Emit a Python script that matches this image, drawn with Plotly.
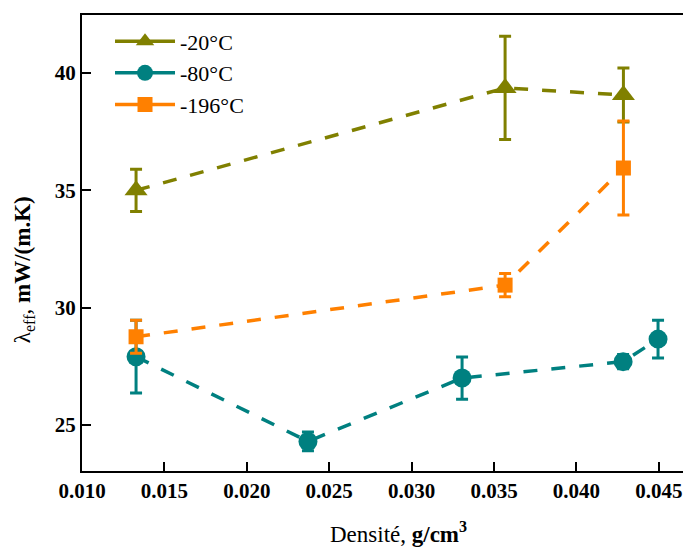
import plotly.graph_objects as go

x20 = [0.01328, 0.03567, 0.04285]
y20 = [35.0, 39.36, 39.06]
e20 = [0.9, 2.2, 1.15]

x80 = [0.01328, 0.02371, 0.03306, 0.04283, 0.04495]
y80 = [27.91, 24.3, 27.0, 27.7, 28.66]
e80 = [1.55, 0.4, 0.9, 0.3, 0.8]

x196 = [0.01328, 0.03567, 0.04285]
y196 = [28.76, 30.96, 35.95]
e196 = [0.7, 0.5, 2.0]

labels = ["-20°C", "-80°C", "-196°C"]
colors = ["#808000", "#008080", "#FF8000"]
symbols = ["triangle-up", "circle", "square"]
sizes = [20, 19, 15]

fig = go.Figure()
for xs, ys, es, lab, col, sym, sz in zip([x20, x80, x196], [y20, y80, y196], [e20, e80, e196],
                                         labels, colors, symbols, sizes):
    fig.add_trace(go.Scatter(
        x=xs, y=ys, name=lab, mode="lines+markers", showlegend=False, legendgroup=lab,
        line=dict(color=col, width=3.5, dash="14px,14px"),
        marker=dict(symbol=sym, size=sz, color=col),
        error_y=dict(type="data", array=es, visible=True, color=col, thickness=3, width=6),
    ))
# legend entries (solid short line segments around marker, as in the reference legend)
for lab, col, sym, sz in zip(labels, colors, symbols, sizes):
    fig.add_trace(go.Scatter(
        x=[None], y=[None], name=lab, mode="lines+markers", legendgroup=lab,
        line=dict(color=col, width=3.5),
        marker=dict(symbol=sym, size=sz, color=col),
    ))

font_fam = "Liberation Serif"
fig.update_layout(
    width=683, height=539,
    margin=dict(l=74, r=0, t=7, b=76),
    paper_bgcolor="white", plot_bgcolor="white",
    font=dict(family=font_fam, color="black"),
    showlegend=True,
    legend=dict(x=0.046, y=0.988, xanchor="left", yanchor="top",
                font=dict(size=22, family=font_fam), bgcolor="rgba(0,0,0,0)",
                itemwidth=60, tracegroupgap=0),
    xaxis=dict(range=[0.010, 0.04695], tickvals=[0.010, 0.015, 0.020, 0.025, 0.030, 0.035, 0.040, 0.045],
               ticktext=["<b>0.010</b>", "<b>0.015</b>", "<b>0.020</b>", "<b>0.025</b>", "<b>0.030</b>",
                         "<b>0.035</b>", "<b>0.040</b>", "<b>0.045</b>"],
               ticks="inside", ticklen=9, tickwidth=2, tickcolor="black",
               showline=True, linewidth=2, linecolor="black", mirror=True,
               showgrid=False, zeroline=False, tickfont=dict(size=21, family=font_fam)),
    yaxis=dict(range=[23.04, 42.47], tickvals=[25, 30, 35, 40],
               ticktext=["<b>25</b>", "<b>30</b>", "<b>35</b>", "<b>40</b>"],
               ticks="inside", ticklen=9, tickwidth=2, tickcolor="black",
               showline=True, linewidth=2, linecolor="black", mirror=False,
               showgrid=False, zeroline=False, tickfont=dict(size=21, family=font_fam)),
    annotations=[
        dict(text="Densité, <b>g/cm<sup>3</sup></b>", xref="paper", yref="paper",
             x=0.519, y=-0.134, xanchor="center", yanchor="middle", showarrow=False,
             font=dict(size=23, family=font_fam)),
        dict(text="λ<sub>eff</sub>, <b>mW/(m.K)</b>", xref="paper", yref="paper",
             x=-0.094, y=0.442, xanchor="center", yanchor="middle", showarrow=False,
             textangle=-90, font=dict(size=23, family=font_fam)),
    ],
)

fig.write_html("out.html")
